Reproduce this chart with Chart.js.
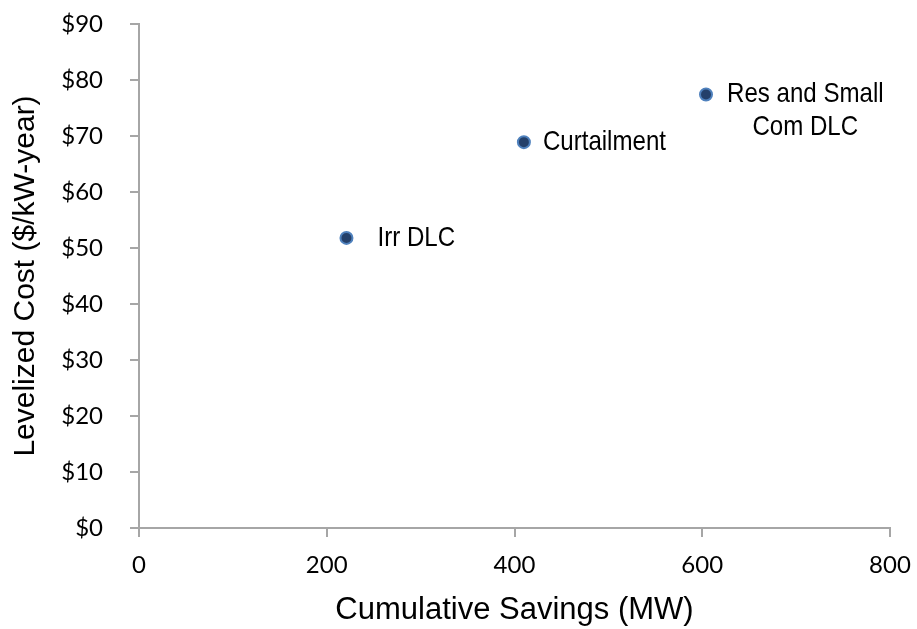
<!DOCTYPE html>
<html>
<head>
<meta charset="utf-8">
<title>Levelized Cost vs Cumulative Savings</title>
<script src="https://cdn.jsdelivr.net/npm/chart.js@4.4.1/dist/chart.umd.min.js"></script>
<style>
    html, body { margin: 0; padding: 0; background: #fff; }
    #wrap { width: 917px; height: 629px; }
</style>
</head>
<body>
<div id="wrap"><canvas id="costChart" width="917" height="629"></canvas></div>
<script>
// chart data
const programNames = [['Irr DLC'], ['Curtailment'], ['Res and Small', 'Com DLC']];
const savingsMW = [221, 410, 604];
const levelizedCost = [51.8, 68.9, 77.4];
const xTickValues = [0, 200, 400, 600, 800];
const yTickValues = [0, 10, 20, 30, 40, 50, 60, 70, 80, 90];

const AXIS_GREY = '#a6a6a6';

// draws the program name to the right of each point (narrow text, like the original)
const pointLabels = {
    id: 'pointLabels',
    afterDatasetsDraw(chart, args, opts) {
        const ctx = chart.ctx;
        const meta = chart.getDatasetMeta(0);
        ctx.save();
        ctx.font = opts.font;
        ctx.fillStyle = '#000';
        ctx.textAlign = 'center';
        ctx.textBaseline = 'middle';
        meta.data.forEach((pt, i) => {
            const lines = programNames[i];
            const w = Math.max(...lines.map(l => ctx.measureText(l).width)) * opts.condense;
            const left = pt.x + opts.offsets[i];
            lines.forEach((line, j) => {
                ctx.save();
                ctx.translate(left + w / 2, pt.y + j * opts.lineGap);
                ctx.scale(opts.condense, 1);
                ctx.fillText(line, 0, 0);
                ctx.restore();
            });
        });
        ctx.restore();
    }
};

function initializeChart() {
    const ctx = document.getElementById('costChart').getContext('2d');
    return new Chart(ctx, {
        type: 'scatter',
        data: {
            datasets: [{
                label: 'Programs',
                data: savingsMW.map((x, i) => ({ x: x, y: levelizedCost[i] })),
                backgroundColor: '#24406a',
                borderColor: '#4f81bd',
                borderWidth: 2,
                pointRadius: 6,
                pointHoverRadius: 6
            }]
        },
        options: {
            responsive: false,
            animation: false,
            layout: {
                padding: { top: 24, right: 27, bottom: 0, left: 0 }
            },
            plugins: {
                legend: { display: false },
                tooltip: { enabled: false },
                pointLabels: {
                    font: '28px "Liberation Sans", Arial, sans-serif',
                    condense: 0.86,
                    offsets: [31, 19, 21],
                    lineGap: 33
                }
            },
            scales: {
                x: {
                    type: 'linear',
                    min: 0,
                    max: 800,
                    afterBuildTicks: (scale) => {
                        scale.ticks = xTickValues.map(v => ({ value: v }));
                    },
                    afterFit: (scale) => {
                        scale.height = 101;
                        scale.paddingLeft = 0;   // let layout.padding decide the plot edges
                        scale.paddingRight = 0;
                    },
                    ticks: {
                        color: '#000',
                        padding: 14,
                        maxRotation: 0,
                        font: { family: 'Lato', size: 24 }
                    },
                    grid: {
                        drawOnChartArea: false,
                        drawTicks: true,
                        tickLength: 9,
                        color: AXIS_GREY,
                        lineWidth: 2
                    },
                    border: { display: true, color: AXIS_GREY, width: 2 },
                    title: {
                        display: true,
                        text: 'Cumulative Savings (MW)',
                        color: '#000',
                        padding: { top: 0, bottom: 0 },
                        font: { family: '"Liberation Sans", Arial, sans-serif', size: 31 }
                    }
                },
                y: {
                    type: 'linear',
                    min: 0,
                    max: 90,
                    afterBuildTicks: (scale) => {
                        scale.ticks = yTickValues.map(v => ({ value: v }));
                    },
                    afterFit: (scale) => {
                        scale.width = 139;
                        scale.paddingTop = 0;
                        scale.paddingBottom = 0;
                    },
                    ticks: {
                        color: '#000',
                        padding: 27,
                        font: { family: 'Lato', size: 24 },
                        callback: (value) => '$' + value
                    },
                    grid: {
                        drawOnChartArea: false,
                        drawTicks: true,
                        tickLength: 9,
                        color: AXIS_GREY,
                        lineWidth: 2
                    },
                    border: { display: true, color: AXIS_GREY, width: 2 },
                    title: {
                        display: true,
                        text: 'Levelized Cost ($/kW-year)',
                        color: '#000',
                        padding: { top: 8, bottom: 0 },
                        font: { family: '"Liberation Sans", Arial, sans-serif', size: 30 }
                    }
                }
            }
        },
        plugins: [pointLabels]
    });
}

initializeChart();
</script>
</body>
</html>
